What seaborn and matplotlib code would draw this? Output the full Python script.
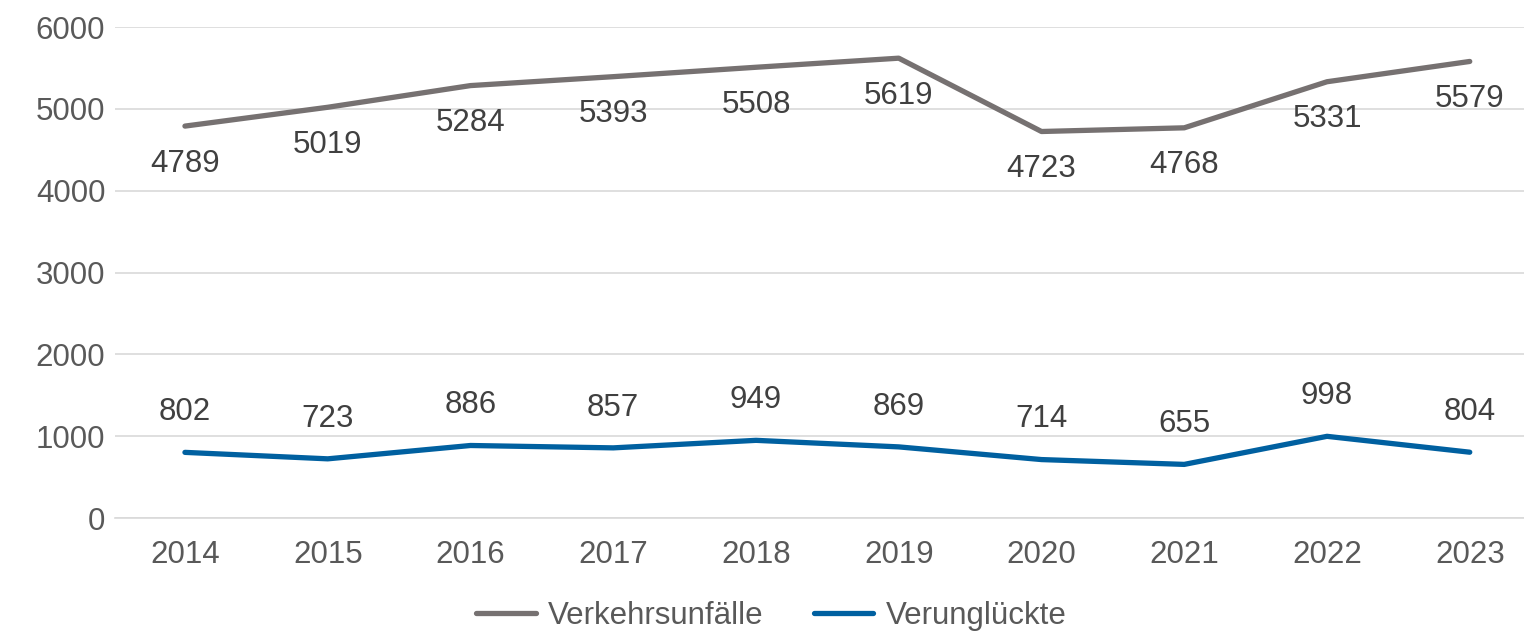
import pandas as pd
import matplotlib
matplotlib.use("Agg")
import matplotlib.pyplot as plt
import seaborn as sns

# ── Daten ─────────────────────────────────────────────────────────────────────
jahre = ["2014", "2015", "2016", "2017", "2018", "2019", "2020", "2021", "2022", "2023"]
unfaelle = [4789, 5019, 5284, 5393, 5508, 5619, 4723, 4768, 5331, 5579]
verunglueckte = [802, 723, 886, 857, 949, 869, 714, 655, 998, 804]

df = pd.DataFrame({
    "Jahr": jahre * 2,
    "Wert": unfaelle + verunglueckte,
    "Reihe": ["Verkehrsunfälle"] * len(jahre) + ["Verunglückte"] * len(jahre),
})

sns.set_style("white")
plt.rcParams["font.family"] = ["Liberation Sans", "DejaVu Sans"]

text_farbe = "#595959"
farben = {"Verkehrsunfälle": "#767171", "Verunglückte": "#0060A0"}
fs = 22.5

fig = plt.figure(figsize=(15.24, 6.34), dpi=100)
ax = fig.add_axes([115 / 1524, 1 - 518 / 634, 1 - 115 / 1524, (518 - 27) / 634])

sns.lineplot(data=df, x="Jahr", y="Wert", hue="Reihe", palette=farben,
             linewidth=3.8, ax=ax, sort=False)

# ── Datenbeschriftungen ───────────────────────────────────────────────────────
for i, v in enumerate(unfaelle):
    ax.annotate(str(v), (i, v), xytext=(0, -27), textcoords="offset points",
                ha="center", va="center", fontsize=fs, color="#404040")
for i, v in enumerate(verunglueckte):
    ax.annotate(str(v), (i, v), xytext=(0, 29), textcoords="offset points",
                ha="center", va="center", fontsize=fs, color="#404040")

ax.set_ylim(0, 6000)
ax.set_xlim(-0.49, 9.38)
ax.set_yticks(range(0, 6001, 1000))
ax.yaxis.grid(True, color="#D9D9D9", linewidth=1.2)
ax.set_axisbelow(True)
ax.set_xlabel("")
ax.set_ylabel("")
ax.tick_params(axis="both", labelsize=fs, colors=text_farbe, length=0)
ax.tick_params(axis="y", pad=7)
ax.tick_params(axis="x", pad=16)
for s in ["top", "right", "left"]:
    ax.spines[s].set_visible(False)
ax.spines["bottom"].set_color("#D9D9D9")
ax.spines["bottom"].set_linewidth(1.2)

leg = ax.legend(loc="center", bbox_to_anchor=(0.5 - 48 / 1409, -0.2), ncol=2,
                frameon=False, fontsize=fs, handlelength=1.9, columnspacing=1.6,
                handletextpad=0.4)
for t in leg.get_texts():
    t.set_color(text_farbe)
for h in leg.get_lines():
    h.set_linewidth(3.8)

fig.savefig("out.png", dpi=100)
